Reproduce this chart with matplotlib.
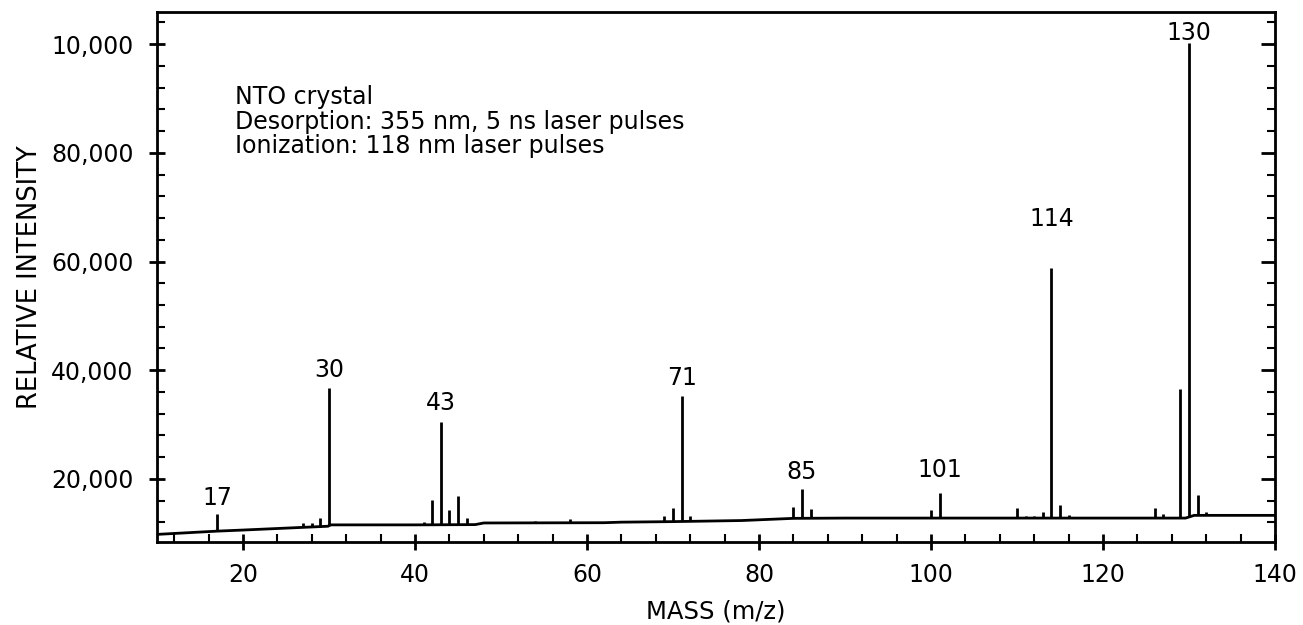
import numpy as np
import matplotlib
matplotlib.use('Agg')
from matplotlib import pyplot as plt
from matplotlib.ticker import FixedLocator, FixedFormatter, MultipleLocator

# baseline of the spectrum (mass, intensity)
base_mass = [10, 17, 20, 29.9, 30.1, 40, 47, 48, 62, 64, 70, 78, 84, 90, 128, 129.6, 130.6, 140]
base_int = [9800, 10400, 10600, 11300, 11550, 11550, 11600, 11900, 11950, 12050, 12150,
            12350, 12750, 12800, 12800, 12800, 13300, 13300]

# peaks (mass, top intensity)
peak_mass = [17, 27, 28, 29, 30, 41, 42, 43, 44, 45, 46, 54, 58, 69, 70, 71, 72,
             84, 85, 86, 100, 101, 110, 111, 112, 113, 114, 115, 116,
             126, 127, 129, 130, 131, 132]
peak_int = [13600, 11900, 11900, 12800, 36700, 12100, 16100, 30400, 14300, 16900, 12900,
            12300, 12600, 13200, 14700, 35200, 13100,
            14900, 18200, 14500, 14200, 17400, 14600, 13100, 13100, 13900, 58800, 15200, 13300,
            14600, 13600, 36500, 100200, 17100, 14000]

# labelled peaks
label_mass = [17, 30, 43, 71, 85, 101, 114, 130]
label_gap = [9, 11, 12, 11, 10, 16, 42, 3]  # pixels above the peak top

ytick_vals = [20000, 40000, 60000, 80000, 100000]
ytick_text = ['20,000', '40,000', '60,000', '80,000', '10,000']

fs = 17
plt.rcParams['font.family'] = ['DejaVu Sans']
fig = plt.figure(figsize=(13.03, 6.25), dpi=100)
ax = fig.add_axes([157 / 1303, 1 - 542 / 625, (1275 - 157) / 1303, (542 - 12) / 625])

# baseline and sticks
ax.plot(base_mass, base_int, color='black', lw=2)
peak_base = np.interp(peak_mass, base_mass, base_int)
ax.vlines(peak_mass, peak_base, peak_int, color='black', lw=2)

for m, gap in zip(label_mass, label_gap):
    top = peak_int[peak_mass.index(m)]
    ax.annotate(str(m), (m, top), xytext=(0, gap), textcoords='offset pixels',
                ha='center', va='baseline', fontsize=fs)

ax.text(0.0695, 0.862, 'NTO crystal\nDesorption: 355 nm, 5 ns laser pulses\n'
        'Ionization: 118 nm laser pulses', transform=ax.transAxes,
        fontsize=fs, va='top', ha='left', linespacing=1.03)

ax.set_xlim(10, 140)
ax.set_ylim(8400, 105900)

ax.xaxis.set_major_locator(FixedLocator([20, 40, 60, 80, 100, 120, 140]))
ax.xaxis.set_minor_locator(MultipleLocator(4))
ax.yaxis.set_major_locator(FixedLocator(ytick_vals))
ax.yaxis.set_major_formatter(FixedFormatter(ytick_text))
ax.yaxis.set_minor_locator(MultipleLocator(4000))

ax.tick_params(which='major', direction='inout', length=12, width=2, labelsize=fs,
               top=False, right=False)
ax.tick_params(which='minor', direction='in', length=6, width=1.5, top=False, right=False)
ax.tick_params(axis='x', which='major', pad=9)
ax.tick_params(axis='y', which='major', pad=11)
for s in ax.spines.values():
    s.set_linewidth(2)

# right side: inward ticks only
ax2 = ax.twinx()
ax2.set_ylim(ax.get_ylim())
ax2.yaxis.set_major_locator(FixedLocator(ytick_vals))
ax2.yaxis.set_minor_locator(MultipleLocator(4000))
ax2.tick_params(which='major', direction='in', length=10, width=2, labelright=False)
ax2.tick_params(which='minor', direction='in', length=6, width=1.5)

ax.set_xlabel('MASS (m/z)', fontsize=17.5, labelpad=9)
ax.set_ylabel('RELATIVE INTENSITY', fontsize=18.5, labelpad=6)

fig.savefig('out.png', dpi=100)
